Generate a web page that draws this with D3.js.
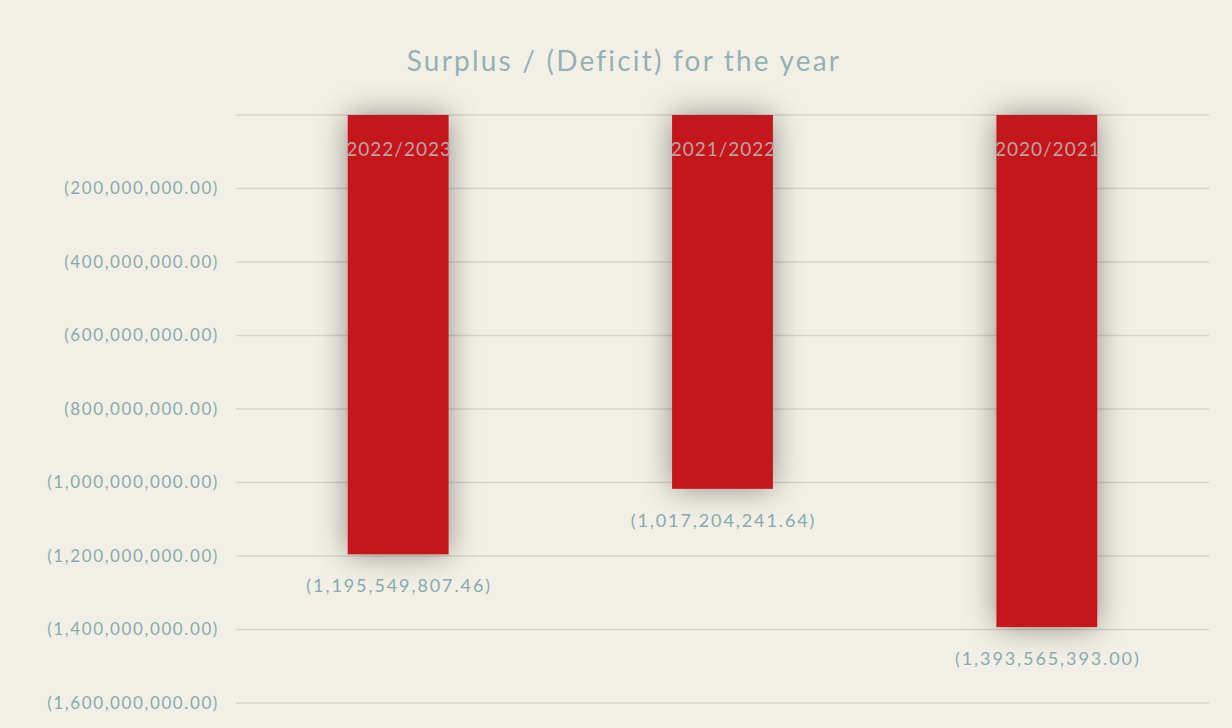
<!DOCTYPE html>
<html>
<head>
<meta charset="utf-8">
<script src="https://cdn.jsdelivr.net/npm/d3@7"></script>
<style>
  body { margin: 0; background: #f2f0e6; }
  svg { display: block; }
</style>
</head>
<body>
<svg width="1232" height="728"></svg>
<script>
var years = ["2022/2023", "2021/2022", "2020/2021"];
var values = [-1195549807.46, -1017204241.64, -1393565393.00];
var tickValues = [0, -200000000, -400000000, -600000000, -800000000, -1000000000, -1200000000, -1400000000, -1600000000];
var labels = ["(1,195,549,807.46)", "(1,017,204,241.64)", "(1,393,565,393.00)"];

var svg = d3.select("svg"),
    margin = {top: 115, right: 23, bottom: 25, left: 236},
    width = +svg.attr("width") - margin.left - margin.right,
    height = +svg.attr("height") - margin.top - margin.bottom;

var data = years.map(function(y, i) { return {year: y, value: values[i], label: labels[i]}; });

var defs = svg.append("defs");
var f = defs.append("filter").attr("id", "shade")
    .attr("x", "-60%").attr("y", "-20%").attr("width", "220%").attr("height", "140%");
f.append("feGaussianBlur").attr("in", "SourceAlpha").attr("stdDeviation", 16).attr("result", "b");
f.append("feComponentTransfer").attr("in", "b").attr("result", "s")
  .append("feFuncA").attr("type", "linear").attr("slope", 0.42);
var fm = f.append("feMerge");
fm.append("feMergeNode").attr("in", "s");
fm.append("feMergeNode").attr("in", "SourceGraphic");

svg.append("rect").attr("width", 1232).attr("height", 728).attr("fill", "#f2f0e6");

// title
svg.append("text")
    .attr("x", 624).attr("y", 71)
    .attr("text-anchor", "middle")
    .style("font", "28px Lato, 'Open Sans', sans-serif")
    .style("letter-spacing", "2.2px")
    .attr("fill", "#96b0b3")
    .text("Surplus / (Deficit) for the year");

var g = svg.append("g").attr("transform", "translate(" + margin.left + "," + margin.top + ")");

var x = d3.scaleBand().domain(years).range([0, width]).padding(0);
var y = d3.scaleLinear().domain([0, -1600000000]).range([0, height]);

// grid
g.selectAll(".grid")
  .data(tickValues)
  .enter().append("line")
    .attr("x1", 0).attr("x2", width)
    .attr("y1", function(d) { return y(d); })
    .attr("y2", function(d) { return y(d); })
    .attr("stroke", "#d4d4cd")
    .attr("stroke-width", 1.5);

// y axis
var fmt = function(d) { return d === 0 ? "" : "(" + d3.format(",.2f")(-d) + ")"; };
var ay = g.append("g")
    .call(d3.axisLeft(y).tickValues(tickValues).tickFormat(fmt).tickSize(0).tickPadding(17));
ay.select(".domain").remove();
ay.selectAll("text")
    .style("font", "17px Lato, 'Open Sans', sans-serif")
    .style("letter-spacing", "1.6px")
    .attr("fill", "#89aaac");

var bw = x.bandwidth() * 0.311;

var bar = g.selectAll(".bar")
  .data(data)
  .enter().append("g").attr("class", "bar");

bar.append("rect")
    .attr("x", function(d) { return x(d.year) + x.bandwidth() / 2 - bw / 2; })
    .attr("y", y(0))
    .attr("width", bw)
    .attr("height", function(d) { return y(d.value) - y(0); })
    .attr("fill", "#c5141b")
    .attr("filter", "url(#shade)");

bar.append("text")
    .attr("x", function(d) { return x(d.year) + x.bandwidth() / 2 + 1; })
    .attr("y", y(0) + 41)
    .attr("text-anchor", "middle")
    .style("font", "19px Lato, 'Open Sans', sans-serif")
    .style("letter-spacing", "1px")
    .attr("fill", "#bda3a3")
    .text(function(d) { return d.year; });

bar.append("text")
    .attr("x", function(d) { return x(d.year) + x.bandwidth() / 2 + 1; })
    .attr("y", function(d) { return y(d.value) + 38; })
    .attr("text-anchor", "middle")
    .style("font", "18px Lato, 'Open Sans', sans-serif")
    .style("letter-spacing", "1.9px")
    .attr("fill", "#89aaac")
    .text(function(d) { return d.label; });
</script>
</body>
</html>
